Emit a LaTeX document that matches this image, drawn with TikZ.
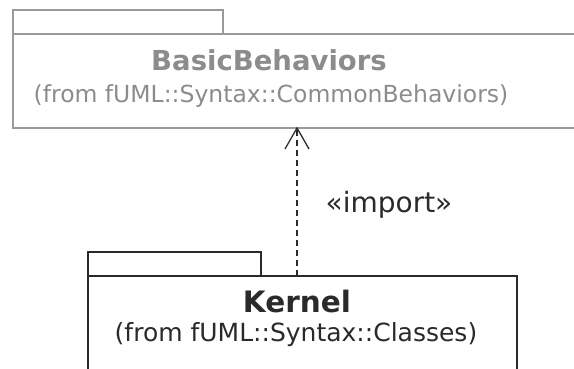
\documentclass[tikz,border=0pt]{standalone}
\usepackage{fontspec}
\setmainfont{DejaVu Sans}
\definecolor{gline}{HTML}{9A9A9A}
\definecolor{gtext}{HTML}{8C8C8C}
\definecolor{kline}{HTML}{2A2A2A}
\begin{document}
\begin{tikzpicture}[x=1pt,y=-1pt,
  pkgline/.style={line width=1.4pt},
  title/.style={font=\fontsize{27.5}{30}\selectfont\bfseries, inner sep=0pt},
  sub/.style={inner sep=0pt},
  lbl/.style={font=\fontsize{28}{30}\selectfont, inner sep=0pt, text=kline}]
\useasboundingbox (0,0) rectangle (574,369);
\clip (0,0) rectangle (574,369);
% BasicBehaviors package
\draw[pkgline, gline] (13,10) rectangle (223,34);
\draw[pkgline, gline] (13,34) rectangle (590,128);
\node[title, text=gtext] (bbt) at (269,60) {BasicBehaviors};
\node[sub, text=gtext, font=\fontsize{23.5}{26}\selectfont] (bbs) at (271,96) {(from fUML::Syntax::CommonBehaviors)};
\coordinate (bbbot) at (297,128);
% Kernel package
\draw[pkgline, kline] (88,252) rectangle (261,276);
\draw[pkgline, kline] (88,276) rectangle (517,390);
\node[title, text=kline, font=\fontsize{29.5}{32}\selectfont\bfseries] (kt) at (297,302) {Kernel};
\node[sub, text=kline, font=\fontsize{25}{27}\selectfont] (ks) at (296,335) {(from fUML::Syntax::Classes)};
\coordinate (ktop) at (297,276);
% import dependency
\draw[line width=1.3pt, kline, dash pattern=on 6pt off 4pt] (ktop) -- (bbbot);
\draw[line width=1.3pt, kline, line join=miter] (285,149) -- (bbbot) -- (309,149);
\node[lbl] (imp) at (389,205) {«import»};
\end{tikzpicture}
\end{document}
